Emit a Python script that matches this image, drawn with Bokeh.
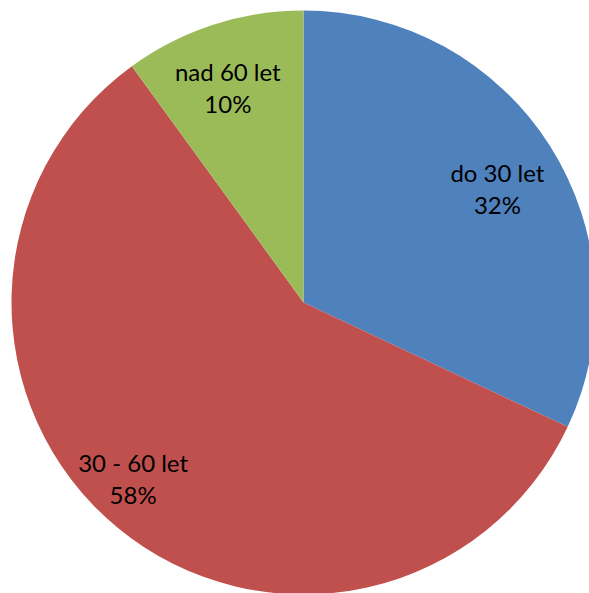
import math
from bokeh.plotting import figure
from bokeh.models import ColumnDataSource
from bokeh.core.properties import value
from bokeh.embed import file_html
from bokeh.resources import INLINE

categories = ["do 30 let", "30 - 60 let", "nad 60 let"]
shares = [32, 58, 10]
colors = ["#4F81BD", "#C0504D", "#9BBB59"]
label_r = [0.77, 0.84, 0.78]   # label distance as fraction of radius (style)
label_da = [2.0, 4.4, -1.4]    # label angle nudge, degrees clockwise (style)

W, H = 589, 593
R = 292
cx_px, cy_px = 303, 302  # centre in figure pixels

p = figure(width=W, height=H, output_backend="svg", toolbar_location=None,
           x_range=(-cx_px, W - cx_px), y_range=(-(H - cy_px), cy_px),
           min_border=0, outline_line_color=None)
p.axis.visible = False
p.grid.visible = False

total = sum(shares)
starts, ends, lx, ly, names, pcts = [], [], [], [], [], []
a = math.pi / 2
for cat, v, fr, da in zip(categories, shares, label_r, label_da):
    span = 2 * math.pi * v / total
    a2 = a - span
    starts.append(a2)
    ends.append(a)
    mid = (a + a2) / 2 - math.radians(da)
    lx.append(R * fr * math.cos(mid))
    ly.append(R * fr * math.sin(mid))
    names.append(cat)
    pcts.append(f"{v}%")
    a = a2

src = ColumnDataSource(dict(start=starts, end=ends, color=colors,
                            lx=lx, ly=ly, name=names, pct=pcts,
                            ly1=[y + 16 for y in ly], ly2=[y - 16 for y in ly]))

p.wedge(x=0, y=0, radius=R, start_angle="start", end_angle="end",
        fill_color="color", line_color=None, source=src)

p.text(x="lx", y="ly1", text="name", source=src, text_align="center",
       text_baseline="middle", text_font=value("Lato"), text_font_size="24px",
       text_color="black")
p.text(x="lx", y="ly2", text="pct", source=src, text_align="center",
       text_baseline="middle", text_font=value("Lato"), text_font_size="24px",
       text_color="black")

open("out.html", "w").write(file_html(p, INLINE))
